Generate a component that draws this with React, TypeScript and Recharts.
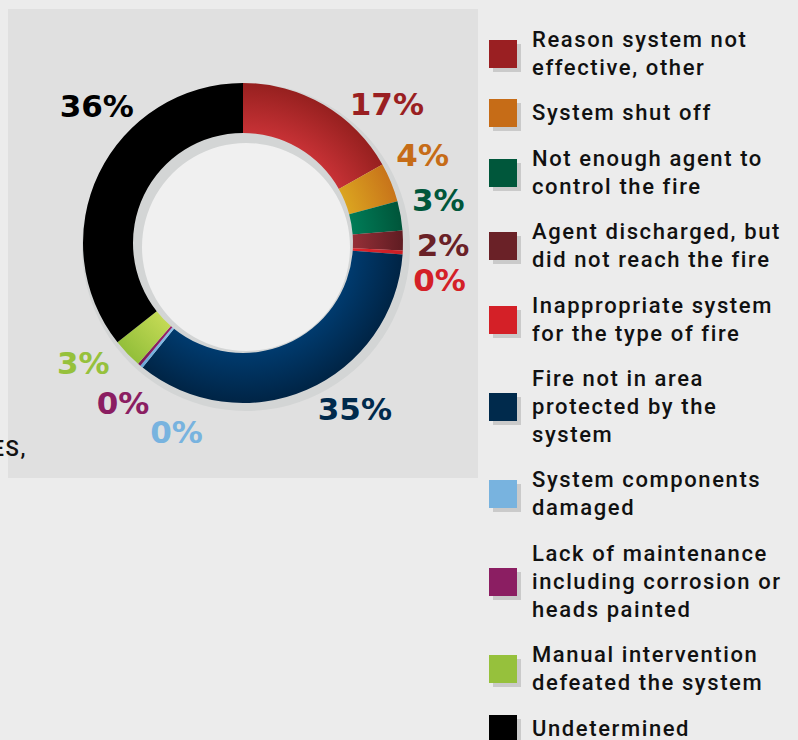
import React from 'react';
import { PieChart, Pie, Cell, Legend } from 'recharts';

const categories = [
  'Reason system not\neffective, other',
  'System shut off',
  'Not enough agent to\ncontrol the fire',
  'Agent discharged, but\ndid not reach the fire',
  'Inappropriate system\nfor the type of fire',
  'Fire not in area\nprotected by the\nsystem',
  'System components\ndamaged',
  'Lack of maintenance\nincluding corrosion or\nheads painted',
  'Manual intervention\ndefeated the system',
  'Undetermined',
];
const shares = [17, 4, 3, 2, 0.4, 35, 0.3, 0.3, 3, 36];

const flatColors = ['#9a1f22', '#c66c17', '#00573b', '#6a2127', '#d42027', '#002a4c', '#78b3df', '#8b1e62', '#96c13c', '#000000'];
const innerColors = ['#c83236', '#dba520', '#007d58', '#963038', '#e0242b', '#003b6f', '#8cc4ea', '#9a2370', '#c4da55', '#000000'];
const outerColors = ['#96201f', '#c8741a', '#00553a', '#5f1c22', '#c81e25', '#002445', '#6aa8d8', '#7a1a56', '#93bf3a', '#000000'];

const data = categories.map((name, i) => ({ name, value: shares[i] }));

// labels were hand-placed in the original, nudged along the ring (degrees clockwise)
const labelShift = [15.7, -3.8, -2.7, 1.4, 7.2, -10.5, -20, -3.6, 6.7, 17.2];

// recharts adds the 5px chart margin to cx/cy
const CX = 238;
const CY = 238;
const RAD = Math.PI / 180;

const renderLabel = (props: any) => {
  const { cx, cy, midAngle, percent, index } = props;
  const a = (midAngle - labelShift[index]) * RAD;
  const r = 200;
  const x = cx + r * Math.cos(a);
  const y = cy - r * Math.sin(a);
  return (
    <text
      x={x}
      y={y}
      fill={flatColors[index]}
      textAnchor="middle"
      dominantBaseline="central"
      fontFamily="DejaVu Sans"
      fontWeight="bold"
      fontSize={31}
    >
      {Math.round(percent * 100)}%
    </text>
  );
};

const renderLegend = () => (
  <div style={{ fontFamily: 'Roboto', fontWeight: 500, fontSize: 22, letterSpacing: 1.6, color: '#111' }}>
    {categories.map((c, i) => (
      <div key={i} style={{ display: 'flex', alignItems: 'center', marginBottom: 17.4 }}>
        <div
          style={{
            width: 28,
            height: 28,
            flexShrink: 0,
            background: flatColors[i],
            boxShadow: '4px 4px 0 #cacaca',
          }}
        />
        <div style={{ marginLeft: 15, whiteSpace: 'pre-line', lineHeight: '28px' }}>{c}</div>
      </div>
    ))}
  </div>
);

export default function App() {
  return (
    <div style={{ position: 'absolute', left: 0, top: 0, width: 798, height: 740, background: '#ececec', overflow: 'hidden' }}>
      <div style={{ position: 'absolute', left: 8, top: 9, width: 470, height: 469, background: '#e0e0e0' }} />
      <div
        style={{
          position: 'absolute',
          left: -100,
          top: 436,
          width: 127,
          textAlign: 'right',
          fontFamily: 'Roboto',
          fontWeight: 500,
          fontSize: 22,
          letterSpacing: 1.6,
          color: '#111',
          whiteSpace: 'nowrap',
        }}
      >
        ES,
      </div>
      <div style={{ position: 'absolute', left: 0, top: 0 }}>
        <PieChart width={798} height={740}>
          <defs>
            {innerColors.map((c, i) => (
              <radialGradient key={i} id={`g${i}`} gradientUnits="userSpaceOnUse" cx={CX + 5} cy={CY + 5} r={160}>
                <stop offset="0.68" stopColor={c} />
                <stop offset="1" stopColor={outerColors[i]} />
              </radialGradient>
            ))}
          </defs>
          <Pie
            data={[{ v: 1 }]}
            dataKey="v"
            cx={CX}
            cy={CY}
            innerRadius={0}
            outerRadius={112}
            fill="#f0f0f0"
            stroke="none"
            isAnimationActive={false}
          />
          <Pie
            data={[{ v: 1 }]}
            dataKey="v"
            cx={CX + 3}
            cy={CY + 4}
            innerRadius={104}
            outerRadius={164}
            fill="#d3d5d5"
            stroke="none"
            isAnimationActive={false}
          />
          <Pie
            data={data}
            dataKey="value"
            nameKey="name"
            cx={CX}
            cy={CY}
            innerRadius={110}
            outerRadius={160}
            startAngle={90}
            endAngle={-270}
            stroke="none"
            label={renderLabel}
            labelLine={false}
            isAnimationActive={false}
          >
            {data.map((d, i) => (
              <Cell key={i} fill={`url(#g${i})`} />
            ))}
          </Pie>
          <Legend
            layout="vertical"
            content={renderLegend}
            wrapperStyle={{ position: 'absolute', left: 489, top: 26, width: 309 }}
          />
        </PieChart>
      </div>
    </div>
  );
}
